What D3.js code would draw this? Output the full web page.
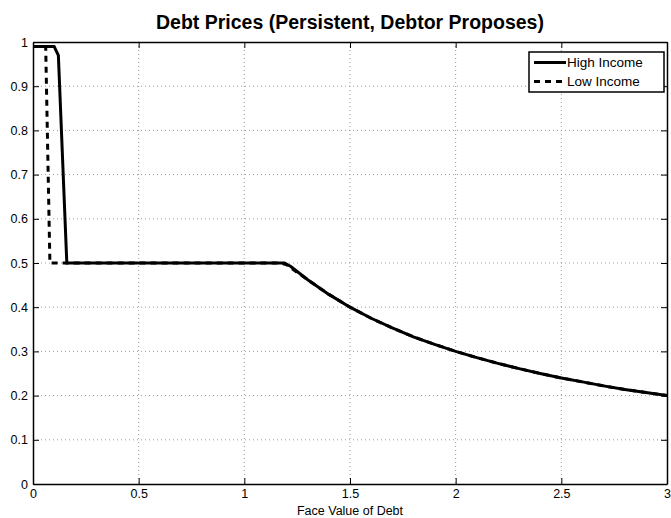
<!DOCTYPE html>
<html><head><meta charset="utf-8">
<script src="https://cdn.jsdelivr.net/npm/d3@7"></script>
<style>body{margin:0;background:#fff}svg{display:block}text{font-family:"Liberation Sans",Arial,sans-serif}</style>
</head><body>
<svg id="c" width="671" height="518"></svg>
<script>
// Data
const highX = [0, 0.10, 0.12, 0.16, 1.19, 1.22, 1.3, 1.4, 1.5, 1.6, 1.7, 1.8, 1.9, 2.0, 2.1, 2.2, 2.3, 2.4, 2.5, 2.6, 2.7, 2.8, 2.9, 3.0];
const highY = [0.99, 0.99, 0.97, 0.50, 0.50, 0.492, 0.462, 0.429, 0.400, 0.375, 0.353, 0.333, 0.316, 0.300, 0.286, 0.273, 0.261, 0.250, 0.240, 0.231, 0.222, 0.214, 0.207, 0.200];
const lowX = [0, 0.06, 0.08, 0.16, 1.17, 1.20, 1.3, 1.4, 1.5, 1.6, 1.7, 1.8, 1.9, 2.0, 2.1, 2.2, 2.3, 2.4, 2.5, 2.6, 2.7, 2.8, 2.9, 3.0];
const lowY = [0.99, 0.99, 0.50, 0.50, 0.50, 0.496, 0.462, 0.429, 0.400, 0.375, 0.353, 0.333, 0.316, 0.300, 0.286, 0.273, 0.261, 0.250, 0.240, 0.231, 0.222, 0.214, 0.207, 0.200];
const xTicks = [0, 0.5, 1, 1.5, 2, 2.5, 3];
const xTickLabels = ["0", "0.5", "1", "1.5", "2", "2.5", "3"];
const yTicks = [0, 0.1, 0.2, 0.3, 0.4, 0.5, 0.6, 0.7, 0.8, 0.9, 1];
const yTickLabels = ["0", "0.1", "0.2", "0.3", "0.4", "0.5", "0.6", "0.7", "0.8", "0.9", "1"];
const seriesNames = ["High Income", "Low Income"];
const titleText = "Debt Prices (Persistent, Debtor Proposes)";
const xLabelText = "Face Value of Debt";

const L = 33, R = 667, T = 42, B = 484;
const svg = d3.select("#c");
const x = d3.scaleLinear().domain([0, 3]).range([L, R]);
const y = d3.scaleLinear().domain([0, 1]).range([B, T]);

// grid
const grid = svg.append("g").attr("stroke", "#9a9a9a").attr("stroke-width", 1).attr("stroke-dasharray", "1,3");
xTicks.slice(1, -1).forEach(t => grid.append("line").attr("x1", x(t)).attr("x2", x(t)).attr("y1", T).attr("y2", B));
yTicks.slice(1, -1).forEach(t => grid.append("line").attr("x1", L).attr("x2", R).attr("y1", y(t)).attr("y2", y(t)));

// axes with inward ticks on all sides
const fmtX = (d, i) => xTickLabels[i];
const fmtY = (d, i) => yTickLabels[i];
const axB = svg.append("g").attr("transform", `translate(0,${B})`)
  .call(d3.axisBottom(x).tickValues(xTicks).tickFormat(fmtX).tickSizeInner(-6).tickSizeOuter(0).tickPadding(10));
const axL = svg.append("g").attr("transform", `translate(${L},0)`)
  .call(d3.axisLeft(y).tickValues(yTicks).tickFormat(fmtY).tickSizeInner(-6).tickSizeOuter(0).tickPadding(10));
const axT = svg.append("g").attr("transform", `translate(0,${T})`)
  .call(d3.axisTop(x).tickValues(xTicks).tickFormat("").tickSizeInner(-6).tickSizeOuter(0));
const axR = svg.append("g").attr("transform", `translate(${R},0)`)
  .call(d3.axisRight(y).tickValues(yTicks).tickFormat("").tickSizeInner(-6).tickSizeOuter(0));
[axB, axL, axT, axR].forEach(a => {
  a.select(".domain").attr("stroke", "#000").attr("stroke-width", 1.5);
  a.selectAll(".tick line").attr("stroke", "#000").attr("stroke-width", 1);
  a.selectAll(".tick text").attr("font-size", 12.5).attr("fill", "#000").attr("font-family", '"Liberation Sans",Arial,sans-serif');
});
axL.selectAll(".tick text").attr("x", -5);
axB.selectAll(".tick text").attr("dy", "0.71em").attr("y", 5);

// lines
const line = d3.line().x(d => x(d[0])).y(d => y(d[1]));
const highData = highX.map((v, i) => [v, highY[i]]);
const lowData = lowX.map((v, i) => [v, lowY[i]]);
svg.append("path").datum(lowData).attr("d", line).attr("fill", "none").attr("stroke", "#000")
  .attr("stroke-width", 3).attr("stroke-dasharray", "6,5");
svg.append("path").datum(highData).attr("d", line).attr("fill", "none").attr("stroke", "#000")
  .attr("stroke-width", 3);

// title & label
svg.append("text").attr("x", (L + R) / 2).attr("y", 29).attr("text-anchor", "middle")
  .attr("font-size", 19.5).attr("font-weight", "bold").text(titleText);
svg.append("text").attr("x", (L + R) / 2).attr("y", 514.5).attr("text-anchor", "middle")
  .attr("font-size", 12.5).text(xLabelText);

// legend
const lg = svg.append("g");
lg.append("rect").attr("x", 529).attr("y", 52).attr("width", 135).attr("height", 40)
  .attr("fill", "#fff").attr("stroke", "#000").attr("stroke-width", 1.5);
seriesNames.forEach((n, i) => {
  const yy = 62.5 + i * 19;
  lg.append("line").attr("x1", 534).attr("x2", 566).attr("y1", yy).attr("y2", yy)
    .attr("stroke", "#000").attr("stroke-width", 3).attr("stroke-dasharray", i ? "6,5" : null);
  lg.append("text").attr("x", 567).attr("y", yy).attr("dy", "0.35em").attr("font-size", 13.5).text(n);
});
</script>
</body></html>
